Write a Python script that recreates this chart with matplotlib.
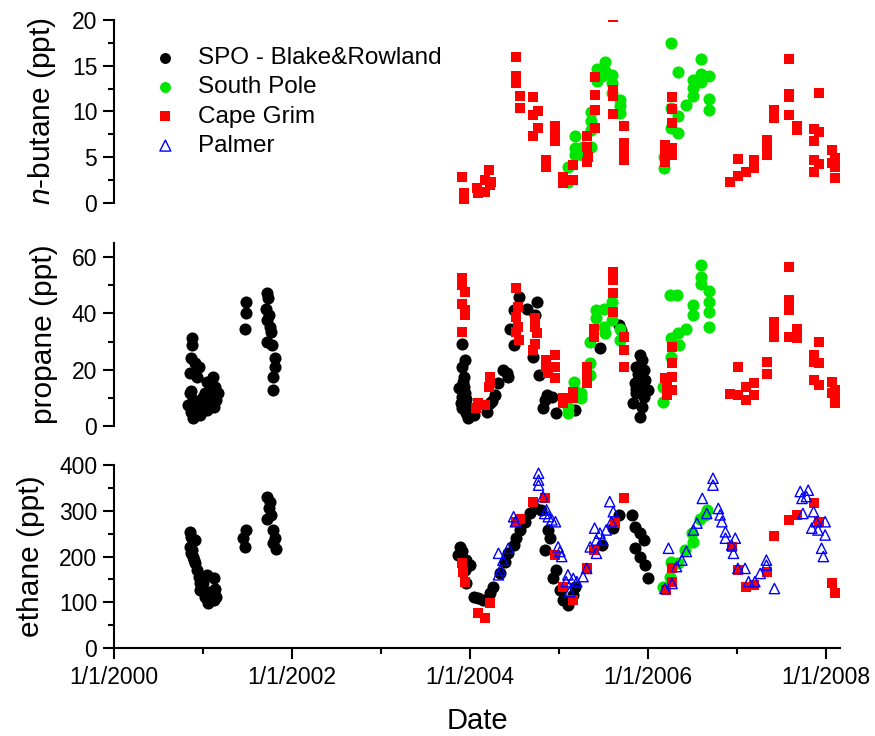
import matplotlib
matplotlib.use("Agg")
import matplotlib.pyplot as plt
from matplotlib.ticker import MultipleLocator, FixedLocator
import numpy as np

plt.rcParams['font.family'] = ['Liberation Sans', 'DejaVu Sans']
plt.rcParams['mathtext.fontset'] = 'custom'
plt.rcParams['mathtext.rm'] = 'Liberation Sans'
plt.rcParams['mathtext.it'] = 'Liberation Sans:italic'

# dates are decimal years
# ---- n-butane ----
but_cg_x = [2003.91, 2003.93, 2003.93, 2004.08, 2004.09, 2004.17, 2004.17, 2004.21, 2004.24, 2004.23,
            2004.52, 2004.52, 2004.52, 2004.56, 2004.56, 2004.71, 2004.71, 2004.76, 2004.76, 2004.71,
            2004.96, 2004.96, 2004.96, 2004.85, 2004.85, 2005.04, 2005.04, 2005.16, 2005.16,
            2005.31, 2005.31, 2005.31, 2005.33, 2005.40, 2005.40, 2005.40, 2005.40,
            2005.61, 2005.61, 2005.61, 2005.73, 2005.73, 2005.73, 2005.73, 2005.61,
            2006.27, 2006.27, 2006.27, 2006.19, 2006.19, 2006.19, 2006.27, 2006.27,
            2006.92, 2007.01, 2007.01, 2007.10, 2007.19, 2007.19, 2007.34, 2007.34, 2007.34,
            2007.42, 2007.42, 2007.58, 2007.58, 2007.58, 2007.58, 2007.67, 2007.67,
            2007.92, 2007.86, 2007.92, 2007.86, 2007.86, 2007.92, 2007.86,
            2008.07, 2008.10, 2008.10, 2008.10, 2008.07]
but_cg_y = [2.86, 1.03, 0.11, 1.58, 1.03, 1.21, 2.49, 3.6, 2.3, 1.95,
            15.98, 13.85, 13.1, 11.65, 10.37, 11.54, 9.64, 10.0, 8.18, 7.25,
            8.35, 7.44, 6.7, 4.69, 3.96, 2.86, 2.13, 4.14, 2.49,
            7.25, 6.15, 4.5, 5.05, 13.78, 11.76, 10.19, 8.18,
            12.38, 11.65, 9.75, 8.35, 6.53, 5.6, 4.69, 20.3,
            11.54, 10.3, 8.72, 6.34, 5.6, 4.5, 5.98, 5.24,
            2.31, 4.8, 2.97, 3.41, 4.69, 3.78, 6.89, 5.98, 5.24,
            10.19, 9.27, 15.76, 11.91, 11.54, 9.56, 8.35, 7.97,
            12.02, 8.07, 7.69, 6.7, 4.69, 4.22, 3.34,
            5.79, 4.88, 3.96, 2.68, 4.4]
but_sp_x = [2005.18, 2005.18, 2005.18, 2005.10, 2005.10, 2005.27, 2005.27, 2005.36, 2005.36, 2005.36,
            2005.36, 2005.43, 2005.43, 2005.52, 2005.52, 2005.48, 2005.60, 2005.60, 2005.60,
            2005.69, 2005.69, 2005.69, 2006.18, 2006.18, 2006.26, 2006.26, 2006.26,
            2006.34, 2006.34, 2006.34, 2006.43, 2006.51, 2006.51, 2006.51,
            2006.60, 2006.60, 2006.60, 2006.68, 2006.68, 2006.68]
but_sp_y = [7.25, 5.98, 5.24, 3.96, 2.31, 6.15, 5.24, 9.89, 8.9, 7.99,
            6.15, 14.66, 13.3, 15.43, 14.4, 13.85, 14.03, 13.1, 12.02,
            11.29, 10.55, 9.82, 5.05, 3.78, 17.44, 10.37, 8.18,
            14.29, 9.45, 7.63, 10.74, 13.48, 12.57, 11.65,
            15.68, 14.14, 13.19, 13.92, 11.4, 10.11]

# ---- propane ----
pro_spo_x = [2000.88, 2000.88, 2000.86, 2000.91, 2000.95, 2000.85, 2000.93, 2000.85, 2000.89, 2000.87,
             2000.89, 2000.97, 2000.97, 2001.02, 2001.04, 2001.11, 2001.08, 2001.13, 2001.15, 2001.12,
             2001.04, 2000.99, 2000.83, 2000.91, 2001.00, 2001.17, 2000.94, 2001.06, 2000.87, 2001.10,
             2001.48, 2001.48, 2001.47,
             2001.72, 2001.73, 2001.71, 2001.74, 2001.72, 2001.75, 2001.76, 2001.72, 2001.77,
             2001.81, 2001.81, 2001.79, 2001.79,
             2003.91, 2003.94, 2003.91, 2003.93, 2003.88, 2003.93, 2003.91, 2003.94, 2003.91, 2003.96,
             2003.98, 2004.04, 2003.94, 2003.98, 2003.90, 2004.19, 2004.22, 2004.28, 2004.32, 2004.37,
             2004.41, 2004.43, 2003.92, 2003.95, 2004.01, 2004.25,
             2004.55, 2004.49, 2004.45, 2004.49, 2004.64, 2004.75, 2004.73, 2004.71, 2004.77, 2004.86,
             2004.84, 2004.82, 2004.97, 2004.92, 2005.18, 2005.46, 2005.67, 2005.70,
             2005.91, 2005.93, 2005.87, 2005.95, 2005.91, 2005.85, 2005.95, 2005.87, 2005.95, 2005.83,
             2005.93, 2005.91, 2005.97, 2006.00, 2005.89, 2005.86]
pro_spo_y = [31.4, 28.7, 24.0, 22.2, 21.0, 18.9, 17.5, 11.6, 9.2, 5.1,
             2.7, 3.9, 8.0, 11.6, 15.7, 17.3, 10.4, 13.9, 9.2, 6.8,
             5.7, 6.8, 7.4, 7.4, 10.4, 11.6, 9.0, 8.5, 12.5, 12.0,
             44.1, 40.0, 34.6,
             47.1, 45.3, 41.7, 39.4, 37.6, 35.2, 33.4, 29.9, 28.7,
             24.0, 21.0, 17.5, 12.8,
             29.1, 23.4, 21.0, 17.5, 13.4, 13.9, 10.4, 8.6, 6.3, 4.5,
             2.7, 3.9, 11.6, 6.8, 8.0, 5.1, 8.0, 11.0, 15.1, 19.9,
             18.7, 17.5, 15.5, 9.5, 5.5, 9.0,
             45.9, 41.1, 34.3, 28.7, 41.7, 44.1, 39.4, 24.6, 18.1, 11.0,
             9.2, 6.3, 4.5, 10.4, 5.7, 27.6, 35.8, 34.0,
             25.2, 23.4, 21.0, 19.9, 17.5, 15.1, 13.9, 11.6, 10.4, 8.0,
             6.8, 3.3, 16.3, 12.8, 18.5, 13.0]
pro_sp_x = [2005.10, 2005.10, 2005.17, 2005.17, 2005.25, 2005.25, 2005.35, 2005.35, 2005.35,
            2005.42, 2005.42, 2005.50, 2005.50, 2005.52, 2005.59, 2005.59, 2005.69, 2005.69,
            2006.17, 2006.17, 2006.25, 2006.33, 2006.26, 2006.26, 2006.34, 2006.35, 2006.43,
            2006.51, 2006.51, 2006.60, 2006.60, 2006.60, 2006.68, 2006.68, 2006.68, 2006.68]
pro_sp_y = [4.5, 6.8, 15.7, 12.8, 11.6, 9.8, 29.9, 22.2, 18.1,
            41.1, 38.2, 41.7, 35.2, 32.9, 44.1, 37.6, 34.6, 30.5,
            13.9, 8.6, 46.5, 46.5, 31.1, 24.6, 32.9, 28.7, 34.3,
            42.9, 39.4, 57.1, 52.9, 50.6, 48.0, 44.1, 40.5, 35.2]
pro_cg_x = [2003.91, 2003.91, 2003.94, 2003.91, 2003.94, 2003.94, 2003.91, 2004.09, 2004.17, 2004.07,
            2004.22, 2004.22, 2004.21, 2004.52, 2004.54, 2004.52, 2004.54, 2004.52, 2004.55,
            2004.73, 2004.73, 2004.75, 2004.73, 2004.71, 2004.85, 2004.85, 2004.88,
            2004.96, 2004.96, 2004.96, 2005.05, 2005.05, 2005.16, 2005.16, 2005.31, 2005.31, 2005.31,
            2005.39, 2005.39, 2005.61, 2005.61, 2005.61, 2005.61, 2005.73, 2005.73, 2005.73,
            2006.27, 2006.27, 2006.19, 2006.21, 2006.21, 2006.27, 2006.27,
            2006.92, 2007.01, 2007.01, 2007.10, 2007.10, 2007.19, 2007.19, 2007.34, 2007.34,
            2007.42, 2007.42, 2007.42, 2007.58, 2007.58, 2007.58, 2007.58, 2007.67, 2007.67,
            2007.92, 2007.86, 2007.92, 2007.86, 2007.86, 2007.92,
            2008.07, 2008.10, 2008.10, 2008.10, 2008.07]
pro_cg_y = [52.4, 50.0, 47.6, 43.5, 41.1, 39.4, 33.4, 8.0, 7.4, 6.3,
            17.5, 15.1, 13.9, 49.1, 42.3, 38.8, 35.2, 33.4, 30.5,
            38.2, 35.2, 32.9, 29.3, 27.0, 23.4, 21.0, 18.7,
            25.2, 21.0, 16.9, 9.8, 8.0, 12.2, 9.8, 21.0, 17.5, 15.1,
            34.6, 31.7, 54.7, 51.8, 47.1, 40.5, 31.7, 27.0, 21.0,
            28.1, 22.2, 16.9, 13.9, 11.0, 17.5, 12.8,
            11.3, 21.0, 11.0, 13.9, 9.2, 15.1, 11.0, 22.8, 18.4,
            37.0, 34.6, 31.7, 56.5, 44.7, 41.1, 31.7, 34.6, 31.1,
            29.9, 25.2, 22.2, 22.8, 16.3, 14.5,
            15.7, 12.8, 10.4, 8.0, 11.6]

# ---- ethane ----
eth_spo_x = [2000.85, 2000.87, 2000.91, 2000.85, 2000.86, 2000.89, 2000.91, 2000.93, 2000.95, 2000.97,
             2000.99, 2001.02, 2001.06, 2001.12, 2001.15, 2001.13, 2001.12, 2001.04, 2001.00, 2001.08,
             2000.97, 2000.88, 2000.90, 2001.10,
             2001.48, 2001.45, 2001.47,
             2001.72, 2001.75, 2001.74, 2001.76, 2001.72, 2001.79, 2001.81, 2001.79, 2001.82,
             2003.89, 2003.91, 2003.87, 2003.96, 2004.00, 2003.94, 2003.96, 2004.04, 2004.09, 2004.15,
             2004.22, 2004.26, 2004.34, 2004.39, 2004.43, 2004.49, 2004.52, 2004.56, 2004.62, 2004.67,
             2004.73, 2004.80, 2004.88, 2004.90, 2004.84, 2004.97, 2004.93, 2005.01, 2005.05, 2005.10,
             2005.16, 2005.18, 2005.48, 2005.61, 2005.67,
             2005.82, 2005.85, 2005.91, 2005.95, 2005.85, 2005.91, 2005.97, 2006.00]
eth_spo_y = [254, 243, 236, 221, 207, 200, 185, 170, 156, 141,
             127, 112, 98, 105, 112, 130, 152, 160, 141, 123,
             127, 215, 192, 118,
             258, 240, 221,
             331, 320, 305, 291, 283, 258, 240, 229, 216,
             221, 211, 203, 192, 181, 170, 141, 112, 109, 105,
             120, 134, 163, 189, 207, 225, 240, 258, 276, 294,
             305, 302, 258, 240, 214, 170, 152, 127, 105, 94,
             116, 134, 225, 262, 291,
             291, 265, 251, 236, 218, 200, 181, 152]
eth_sp_x = [2006.17, 2006.25, 2006.26, 2006.34, 2006.42, 2006.49, 2006.51, 2006.58, 2006.66, 2006.64]
eth_sp_y = [134, 156, 189, 185, 214, 251, 232, 283, 302, 291]
eth_cg_x = [2003.91, 2003.92, 2003.94, 2004.09, 2004.17, 2004.22, 2004.56, 2004.52, 2004.71, 2004.84,
            2004.96, 2005.05, 2005.16, 2005.31, 2005.39, 2005.63, 2005.73,
            2006.20, 2006.27, 2006.27, 2006.94, 2007.01, 2007.10, 2007.19, 2007.34, 2007.42,
            2007.58, 2007.67, 2007.86, 2007.92, 2008.07, 2008.10]
eth_cg_y = [185, 167, 145, 76, 65, 98, 283, 276, 320, 327,
            203, 134, 105, 174, 214, 273, 327,
            127, 145, 174, 221, 170, 134, 138, 167, 245,
            280, 291, 316, 276, 141, 120]
eth_pal_x = [2004.32, 2004.34, 2004.32, 2004.37, 2004.43, 2004.49, 2004.51,
             2004.77, 2004.77, 2004.77, 2004.82, 2004.84, 2004.88, 2004.92, 2004.96, 2004.86,
             2004.99, 2005.01, 2005.03, 2005.10, 2005.08, 2005.16, 2005.20, 2005.12, 2005.31, 2005.27,
             2005.35, 2005.40, 2005.42, 2005.46, 2005.49, 2005.53, 2005.57, 2005.59, 2005.61, 2005.42,
             2006.23, 2006.19, 2006.27, 2006.32, 2006.38, 2006.43, 2006.51, 2006.55, 2006.61, 2006.66,
             2006.73, 2006.73, 2006.79, 2006.81, 2006.83, 2006.87, 2006.87, 2006.98, 2006.94, 2006.96,
             2007.01, 2007.09, 2007.13, 2007.20, 2007.26, 2007.33, 2007.33, 2007.42,
             2007.71, 2007.73, 2007.80, 2007.78, 2007.74, 2007.86, 2007.89, 2007.84, 2007.91,
             2007.99, 2007.99, 2007.95, 2007.97]
eth_pal_y = [160, 170, 207, 192, 218, 287, 276,
             382, 367, 356, 331, 294, 287, 280, 276, 302,
             221, 211, 200, 160, 145, 152, 145, 123, 174, 156,
             221, 262, 236, 251, 236, 258, 320, 276, 298, 207,
             218, 130, 141, 178, 192, 211, 258, 273, 327, 294,
             371, 356, 305, 291, 276, 254, 240, 240, 225, 207,
             174, 174, 145, 145, 163, 192, 181, 130,
             342, 327, 345, 331, 294, 298, 276, 262, 258,
             276, 247, 218, 200]

BLACK = 'black'
GREEN = '#00e600'
RED = '#ff0000'
BLUE = '#0000ff'
S_CIRC = 76
S_SQ = 50
S_TRI = 55

fig = plt.figure(figsize=(8.75, 7.36), dpi=100)
L, W = 114 / 875, 726 / 875
ax1 = fig.add_axes([L, 1 - 202.7 / 736, W, 182.7 / 736])
ax2 = fig.add_axes([L, 1 - 426 / 736, W, 183 / 736])
ax3 = fig.add_axes([L, 1 - 648 / 736, W, 183 / 736])

# n-butane
ax1.scatter(but_sp_x, but_sp_y, s=S_CIRC, c=GREEN, marker='o', lw=0, label='South Pole', zorder=2)
ax1.scatter(but_cg_x, but_cg_y, s=S_SQ, c=RED, marker='s', lw=0, label='Cape Grim', zorder=3)
# legend-only handles for the series missing in this panel
ax1.scatter([], [], s=S_CIRC, c=BLACK, marker='o', lw=0, label='SPO - Blake&Rowland')
ax1.scatter([], [], s=S_TRI, facecolors='none', edgecolors=BLUE, marker='^', lw=1.0, label='Palmer')

# propane
ax2.scatter(pro_spo_x, pro_spo_y, s=S_CIRC, c=BLACK, marker='o', lw=0, zorder=1)
ax2.scatter(pro_sp_x, pro_sp_y, s=S_CIRC, c=GREEN, marker='o', lw=0, zorder=2)
ax2.scatter(pro_cg_x, pro_cg_y, s=S_SQ, c=RED, marker='s', lw=0, zorder=3)

# ethane
ax3.scatter(eth_spo_x, eth_spo_y, s=S_CIRC, c=BLACK, marker='o', lw=0, zorder=1)
ax3.scatter(eth_sp_x, eth_sp_y, s=S_CIRC, c=GREEN, marker='o', lw=0, zorder=2)
ax3.scatter(eth_cg_x, eth_cg_y, s=S_SQ, c=RED, marker='s', lw=0, zorder=3)
ax3.scatter(eth_pal_x, eth_pal_y, s=S_TRI, facecolors='none', edgecolors=BLUE, marker='^', lw=1.0,
            zorder=4)

handles, labels = ax1.get_legend_handles_labels()
order = [labels.index(n) for n in ['SPO - Blake&Rowland', 'South Pole', 'Cape Grim', 'Palmer']]
leg = ax1.legend([handles[i] for i in order], [labels[i] for i in order], loc='upper left',
                 bbox_to_anchor=(0.054, 0.852), frameon=False, fontsize=17.5, scatterpoints=1,
                 handlelength=1.0, handletextpad=0.85, labelspacing=0.3, borderpad=0,
                 borderaxespad=0)
for h in leg.legend_handles:
    h.set_sizes([62])

ylims = [(0, 20), (0, 65), (0, 400)]
majors = [[0, 5, 10, 15, 20], [0, 20, 40, 60], [0, 100, 200, 300, 400]]
minors = [2.5, 10, 50]
ylabels = [r'$\it{n}$-butane (ppt)', 'propane (ppt)', 'ethane (ppt)']
for ax, yl, mj, mn, lab in zip([ax1, ax2, ax3], ylims, majors, minors, ylabels):
    ax.set_xlim(2000, 2008.157)
    ax.set_ylim(*yl)
    ax.yaxis.set_major_locator(FixedLocator(mj))
    ax.yaxis.set_minor_locator(MultipleLocator(mn))
    ax.spines['top'].set_visible(False)
    ax.spines['right'].set_visible(False)
    ax.spines['left'].set_linewidth(1.5)
    ax.spines['bottom'].set_linewidth(1.5)
    ax.tick_params(axis='y', which='major', direction='out', length=8, width=1.5, labelsize=16.5, pad=4)
    ax.tick_params(axis='y', which='minor', direction='out', length=4.5, width=1.5)
    ax.set_ylabel(lab, fontsize=21.5, labelpad=10)
    ax.patch.set_visible(False)

for ax in [ax1, ax2]:
    ax.spines['bottom'].set_visible(False)
    ax.tick_params(axis='x', which='both', bottom=False, labelbottom=False)

ax3.xaxis.set_major_locator(FixedLocator([2000, 2002, 2004, 2006, 2008]))
ax3.xaxis.set_minor_locator(FixedLocator([2001, 2003, 2005, 2007]))
ax3.set_xticklabels(['1/1/2000', '1/1/2002', '1/1/2004', '1/1/2006', '1/1/2008'])
ax3.tick_params(axis='x', which='major', direction='out', length=8, width=1.5, labelsize=16.5, pad=5)
ax3.tick_params(axis='x', which='minor', direction='out', length=4.5, width=1.5)
ax3.set_xlabel('Date', fontsize=21, labelpad=13)

fig.savefig('out.png', dpi=100)
